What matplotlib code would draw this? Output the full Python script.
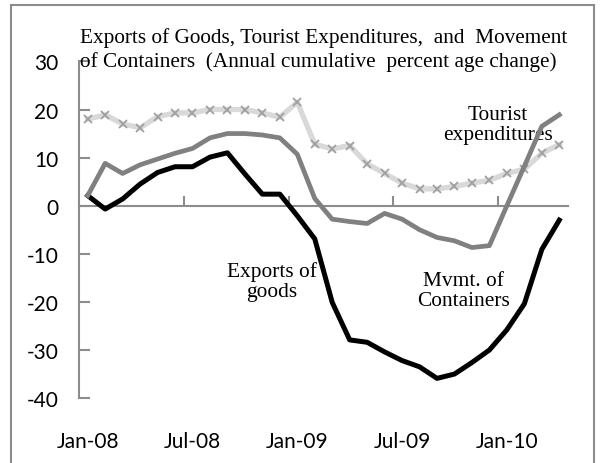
import numpy as np
import matplotlib.pyplot as plt
from matplotlib.patches import Rectangle

# monthly observations, Jan-08 .. Apr-10
months = ['Jan-08', 'Feb-08', 'Mar-08', 'Apr-08', 'May-08', 'Jun-08',
          'Jul-08', 'Aug-08', 'Sep-08', 'Oct-08', 'Nov-08', 'Dec-08',
          'Jan-09', 'Feb-09', 'Mar-09', 'Apr-09', 'May-09', 'Jun-09',
          'Jul-09', 'Aug-09', 'Sep-09', 'Oct-09', 'Nov-09', 'Dec-09',
          'Jan-10', 'Feb-10', 'Mar-10', 'Apr-10']

tourist = [18.0, 18.9, 17.0, 16.2, 18.5, 19.3, 19.3, 20.0, 20.0, 20.0,
           19.3, 18.4, 21.5, 12.8, 11.8, 12.5, 8.7, 6.7, 4.7, 3.5,
           3.5, 4.0, 4.7, 5.3, 6.7, 7.6, 10.9, 12.7]

containers = [2.1, 8.8, 6.7, 8.5, 9.7, 10.9, 11.9, 14.1, 15.0, 15.0,
              14.7, 14.1, 10.7, 1.5, -2.8, -3.3, -3.7, -1.6, -2.8, -5.0,
              -6.6, -7.3, -8.7, -8.3, 0.0, 8.2, 16.5, 18.9]

exports = [2.1, -0.7, 1.4, 4.5, 6.9, 8.1, 8.1, 10.1, 11.0, 6.6,
           2.4, 2.4, -2.1, -6.9, -20.1, -27.9, -28.4, -30.4, -32.2, -33.5,
           -35.9, -35.0, -32.6, -30.0, -25.8, -20.4, -9.1, -3.0]

yticks = [-40, -30, -20, -10, 0, 10, 20, 30]

axis_gray = '#8c8c8c'
sans = 'Lato'
serif = 'Liberation Serif'

x = np.arange(len(months))

fig = plt.figure(figsize=(6.01, 4.64), dpi=100)
ax = fig.add_axes([0.1314, 0.1399, 0.8137, 0.7256])

ax.plot(x, tourist, color='#d9d9d9', lw=3.8, marker='x', ms=6,
        mec='#a0a0a0', mew=1.3, zorder=2)
ax.plot(x, exports, color='black', lw=3.6, zorder=3)
ax.plot(x, containers, color='#808080', lw=3.4, zorder=4)

ax.set_xlim(-0.5, len(months) - 0.5)
ax.set_ylim(-40, 30)

for s in ['top', 'right', 'bottom']:
    ax.spines[s].set_visible(False)
ax.spines['left'].set_color(axis_gray)
ax.spines['left'].set_linewidth(1.5)

ax.set_yticks(yticks)
ax.set_yticklabels([str(v) for v in yticks], family=sans, fontsize=15)
ax.tick_params(axis='y', direction='in', length=8, width=1.5,
               color=axis_gray, pad=15)

# labels sit at the bottom, the axis line itself crosses at zero
ax.set_xticks(x[::6])
ax.set_xticklabels(months[::6], family=sans, fontsize=15)
ax.tick_params(axis='x', length=0, pad=24)

zero = ax.secondary_xaxis(40 / 70)
zero.set_xticks(x[5::6] + 0.5)
zero.set_xticklabels([])
zero.tick_params(direction='out', length=7, width=1.5, color=axis_gray)
zero.spines['top'].set_color(axis_gray)
zero.spines['top'].set_linewidth(1.5)

fig.text(0.133, 0.9067, 'Exports of Goods, Tourist Expenditures,  and  Movement',
         family=serif, fontsize=15.3, ha='left', va='baseline')
fig.text(0.133, 0.8563, 'of Containers  (Annual cumulative  percent age change)',
         family=serif, fontsize=15.3, ha='left', va='baseline')

# y is the baseline of the second line
note = dict(family=serif, fontsize=15.4, ha='center', va='baseline',
            linespacing=1.05)
ax.text(23.49, 13.9, 'Tourist\nexpenditures', **note)
ax.text(10.52, -18.7, 'Exports of\ngoods', **note)
ax.text(21.53, -20.6, 'Mvmt. of\nContainers', **note)

fig.patches.append(Rectangle((0.0183, -0.05), 0.970, 1.037, transform=fig.transFigure,
                             fill=False, edgecolor=axis_gray, lw=1.5))

fig.savefig('out.png', dpi=100)
